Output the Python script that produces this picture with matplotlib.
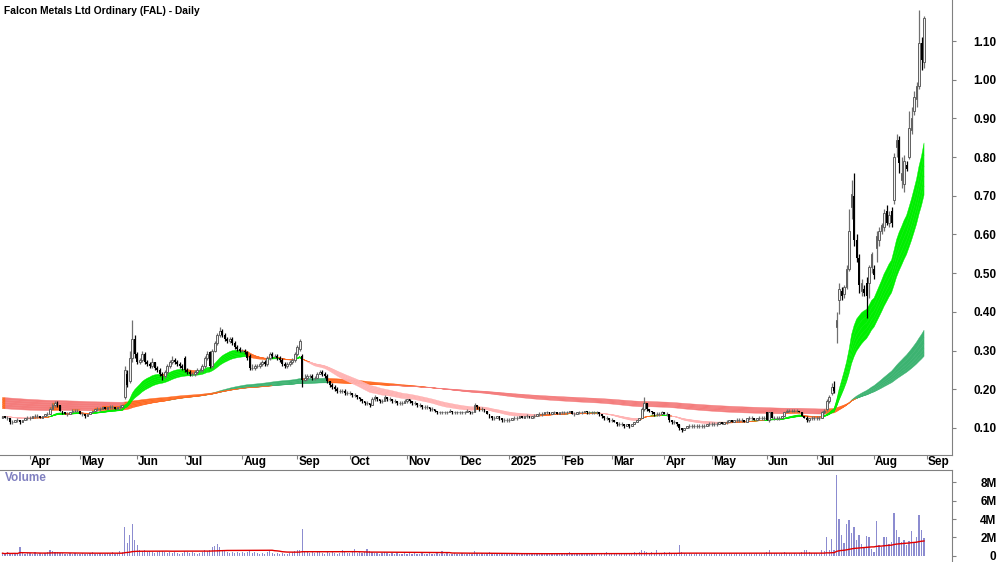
import numpy as np
import pandas as pd
import matplotlib
matplotlib.use("Agg")
import matplotlib.pyplot as plt
from matplotlib.transforms import blended_transform_factory

plt.rcParams['font.family'] = ['Liberation Sans', 'DejaVu Sans']

# ASX trading days shown on the chart
holidays = ["2024-03-29", "2024-04-01", "2024-04-25", "2024-06-10", "2024-12-25", "2024-12-26",
            "2025-01-01", "2025-01-27", "2025-04-18", "2025-04-21", "2025-04-25", "2025-06-09"]

# prices in cents, one row per month
open_c = [12.5, 13, 12.5, 12.5, 11.5, 11.5, 12, 12, 11.5, 12, 12.5,
          12.5, 12.5, 13, 13, 13, 12.5, 13, 13.5, 13.5, 15, 16, 16.5, 16, 14.5, 14, 13.5, 13.5, 14, 14.5, 14.5,
          14.5, 13.5, 13.5, 13, 13.5, 14, 14.5, 15, 15, 15, 15.5, 15, 15.5, 15.5, 15.5, 15, 15.5, 15.5, 18, 24, 22, 28, 33,
          29, 27, 27.5, 29, 27, 26.5, 26, 27, 25.5, 25, 24, 23.5, 24.5, 26, 27, 27.5, 27, 26.5, 26,
          28, 25, 24.5, 24, 24, 24.5, 25, 25, 26, 28, 29.5, 26, 30, 32, 34, 35, 34, 33, 32.5, 33, 32, 31, 30.5,
          30, 30, 29.5, 28.5, 25.5, 25.5, 26, 26, 26.5, 27, 26.5, 28, 29, 28.5, 28.5, 28, 27.5, 26.5, 26, 26.5, 27, 27.5,
          29, 30.5, 28.5, 22.5, 23, 23.5, 23.5, 23, 23, 24, 24.5, 24, 23.5, 22, 21, 20.5, 20, 19.5, 19.5, 19.5, 19,
          19, 19, 18.5, 18.5, 18, 17.5, 17, 16.5, 16.5, 16, 17.5, 18, 17.5, 17, 17, 18, 17.5, 17.5, 17, 17, 16.5, 16.5, 16.5,
          17, 17.5, 17, 16.5, 16.5, 16, 16, 15.5, 15.5, 15.5, 15, 15, 14.5, 14, 14, 14, 14, 14, 14.5, 14, 14,
          14, 14, 14, 14, 14.5, 14, 14, 16, 15.5, 15, 15, 14.5, 13.5, 13, 12.5, 12.5, 13, 12.5, 12, 12,
          12, 12, 12.5, 12.5, 12.5, 13, 12.5, 13, 13, 12.5, 13, 13, 13.5, 13.5, 13.5, 14, 14, 13.5, 14, 14, 13.5,
          14, 14, 14, 14, 14.5, 13.5, 13.5, 14, 14, 14, 14.5, 14, 14, 14, 14, 14, 13.5, 13, 12.5, 12.5,
          12, 12, 11.5, 11, 11, 11, 10.5, 11, 10.5, 11, 11.5, 12, 12.5, 15, 16.5, 15, 14.5, 14, 13.5, 13.5, 13.5,
          14, 13.5, 13.5, 12, 11.5, 11.5, 11, 10, 9.5, 10, 10.5, 10.5, 10.5, 10.5, 10.5, 10.5, 10.5, 10.5, 11,
          11, 11, 11, 11, 11.5, 11, 11.5, 11.5, 12, 11.5, 12, 12, 12, 12, 11.5, 12.5, 12.5, 12.5, 12, 12.5, 12.5, 12.5,
          14, 12, 14, 12.5, 12.5, 12.5, 12.5, 13, 14, 14.5, 14.5, 14.5, 14.5, 14.5, 14, 13, 12.5, 12, 12.5, 12.5,
          12.5, 12.5, 12.5, 14, 15, 17, 19, 20.5, 36, 43, 45.5, 44.5, 46.5, 51, 67, 70, 58.5, 54, 45.5, 46, 47.5, 47.5, 51.5,
          51, 56.5, 58.5, 61, 62, 66, 63, 66, 69, 82.5, 84.5, 74, 73, 78, 80, 87, 92, 95, 98.5, 109.5, 104.5]

high_c = [13, 13, 13, 12.5, 12, 12, 12.5, 12, 12, 12.5, 13,
          13, 13, 13.5, 13.5, 13, 13, 13.5, 14, 15.5, 16.5, 17, 17, 16, 14.5, 14, 14, 14, 15, 15, 15,
          14.5, 14, 13.5, 13.5, 14, 14.5, 15, 15.5, 15.5, 15.5, 15.5, 15.5, 16, 16, 15.5, 15.5, 16, 16, 26, 25, 30, 38, 34,
          29.5, 28, 30, 29.5, 27.5, 27, 28, 27, 26, 25.5, 24.5, 25, 26.5, 27.5, 28.5, 28, 27.5, 27, 26.5,
          28.5, 25.5, 25, 24.5, 25, 25.5, 25.5, 26.5, 28.5, 30, 30, 30.5, 32.5, 34.5, 36, 35.5, 34.5, 33.5, 33.5, 33.5, 32.5, 31.5, 31,
          30.5, 30.5, 30, 29, 26.5, 26.5, 26.5, 27, 27.5, 27.5, 28.5, 29.5, 29.5, 29, 29, 28.5, 28, 27, 27, 27.5, 28, 29.5,
          31.5, 33, 29, 24, 24, 24, 24, 23.5, 24.5, 25, 25, 24.5, 24, 22, 21.5, 21, 20.5, 20, 20, 20, 19.5,
          19.5, 19, 19, 18.5, 18, 17.5, 17, 17, 16.5, 18, 18.5, 18, 17.5, 17.5, 18.5, 18, 18, 17.5, 17.5, 17, 17, 17, 17.5,
          17.5, 17.5, 17, 17, 16.5, 16.5, 16, 16, 16, 15.5, 15.5, 15, 14.5, 14.5, 14.5, 14.5, 14.5, 15, 14.5, 14.5, 14.5,
          14.5, 14.5, 14.5, 15, 14.5, 14.5, 16.5, 16, 15.5, 15.5, 15, 14.5, 13.5, 13, 13, 13, 13, 12.5, 12.5, 12.5,
          12.5, 12.5, 13, 13, 13, 13, 13, 13.5, 13, 13, 13.5, 13.5, 14, 14, 14, 14.5, 14, 14, 14.5, 14, 14,
          14.5, 14.5, 14.5, 14.5, 14.5, 14, 14, 14.5, 14.5, 14.5, 14.5, 14.5, 14.5, 14.5, 14.5, 14, 13.5, 13, 13, 12.5,
          12.5, 12, 11.5, 11.5, 11.5, 11, 11, 11, 11, 11.5, 12, 12.5, 15.5, 18, 16.5, 15, 14.5, 14, 14, 14, 14.5,
          14, 14, 13.5, 12, 12, 11.5, 11, 10, 10, 10.5, 11, 11, 11, 11, 11, 11, 11, 11, 11.5,
          11.5, 11.5, 11.5, 11.5, 11.5, 11.5, 12, 12, 12, 12, 12.5, 12.5, 12.5, 12, 12.5, 13, 13, 12.5, 12.5, 13, 13, 13,
          14, 14, 14, 13, 13, 13, 13, 14, 15, 15, 15, 15, 15, 14.5, 14, 13, 13, 12.5, 13, 13,
          13, 13, 14.5, 15, 17.5, 18.5, 21.5, 22, 40, 47.5, 46.5, 47, 52, 66.5, 74, 76, 60, 55, 48.5, 47, 49, 52, 55.5,
          52, 61, 62, 63, 66.5, 67.5, 66, 67, 81, 86, 85.5, 80, 80.5, 79, 92, 93, 97, 99.5, 118, 111, 116.5]

low_c = [12.5, 12.5, 12, 11, 11, 11.5, 11.5, 11, 11.5, 12, 12,
         12, 12.5, 12.5, 12.5, 12.5, 12.5, 13, 13, 13.5, 15, 15.5, 15.5, 14.5, 13.5, 13.5, 13, 13.5, 14, 14, 14,
         13.5, 13, 12.5, 13, 13.5, 14, 14.5, 14.5, 14.5, 15, 15, 15, 15, 15, 15, 15, 15, 15.5, 17.5, 20.5, 21.5, 27, 28,
         26.5, 26.5, 27, 26.5, 26, 25.5, 25.5, 25, 24.5, 23.5, 22.5, 23, 24, 25.5, 26.5, 26.5, 26, 25.5, 25,
         24.5, 24, 23.5, 23.5, 23.5, 24, 24.5, 24.5, 25.5, 27.5, 25.5, 25.5, 29.5, 31.5, 33.5, 33.5, 32.5, 32, 32, 31.5, 30.5, 30, 29.5,
         29.5, 29, 27.5, 25, 25, 25, 25.5, 25.5, 26, 26, 26, 27.5, 28, 28, 27.5, 27, 26, 25.5, 25.5, 26, 26.5, 27,
         28.5, 30, 20.5, 22, 22.5, 23, 22.5, 22.5, 23, 24, 23.5, 23, 21.5, 20.5, 20, 19.5, 19, 19, 19, 18.5, 18.5,
         18.5, 18, 18, 17.5, 17, 16.5, 16, 16, 15.5, 16, 17, 17, 16.5, 16.5, 17, 17, 17, 16.5, 16.5, 16, 16, 16, 16.5,
         16.5, 16.5, 16, 16, 15.5, 15.5, 15, 15, 15, 14.5, 14.5, 14, 13.5, 13.5, 13.5, 13.5, 13.5, 14, 13.5, 13.5, 13.5,
         13.5, 13.5, 13.5, 14, 13.5, 13.5, 14, 15, 14.5, 14.5, 14, 13.5, 12.5, 12, 12, 12.5, 12, 11.5, 11.5, 11.5,
         11.5, 12, 12, 12, 12.5, 12.5, 12.5, 12.5, 12.5, 12.5, 12.5, 13, 13, 13, 13.5, 13.5, 13.5, 13.5, 13.5, 13.5, 13.5,
         13.5, 13.5, 13.5, 14, 13.5, 13, 13.5, 13.5, 13.5, 14, 13.5, 13.5, 13.5, 13.5, 13.5, 13, 12.5, 12, 12, 11.5,
         11.5, 11.5, 10.5, 10.5, 10.5, 10, 10.5, 10, 10.5, 11, 11.5, 12, 12.5, 14.5, 14.5, 14, 13.5, 13, 13, 13, 13.5,
         13.5, 13, 11.5, 11, 11, 10.5, 9.5, 9, 9.5, 10, 10, 10, 10, 10, 10, 10, 10, 10.5, 10.5,
         10.5, 10.5, 10.5, 11, 11, 11, 11, 11.5, 11.5, 11.5, 11.5, 11.5, 11.5, 11.5, 11.5, 12, 12, 12, 12, 12, 12, 12,
         12, 11.5, 12.5, 12, 12, 12, 12.5, 13, 14, 14, 14, 14, 14, 14, 13, 12.5, 11.5, 11.5, 12, 12,
         12, 12, 12.5, 13.5, 14.5, 16.5, 18.5, 19, 32, 39.5, 43, 43.5, 46, 50.5, 64, 57, 53, 45, 44, 44, 38.5, 43.5, 50,
         48.5, 53, 57, 60, 61, 62.5, 62, 62, 68, 80, 76, 72, 71, 76.5, 79.5, 86, 91, 93, 97.5, 102.5, 103]

close_c = [13, 12.5, 12.5, 11.5, 11.5, 12, 12, 11.5, 12, 12.5, 12.5,
           12.5, 13, 13, 13, 12.5, 13, 13.5, 13.5, 15, 16, 16.5, 16, 14.5, 14, 13.5, 13.5, 14, 14.5, 14.5, 14.5,
           13.5, 13.5, 13, 13.5, 14, 14.5, 15, 15, 15, 15.5, 15, 15.5, 15.5, 15.5, 15, 15.5, 15.5, 16, 25, 21, 28, 33, 29,
           27, 27.5, 29, 27, 26.5, 26, 27, 25.5, 25, 24, 23.5, 24.5, 26, 27, 27.5, 27, 26.5, 26, 25.5,
           25, 24.5, 24, 24, 24.5, 25, 25, 26, 28, 29, 26, 30, 32, 34, 35, 34, 33, 32.5, 33, 32, 31, 30.5, 30,
           30, 29.5, 28, 25.5, 25.5, 26, 26, 26.5, 27, 26.5, 28, 29, 28.5, 28.5, 28, 27.5, 26.5, 26, 26.5, 27, 27.5, 29,
           31, 32.5, 22.5, 23, 23.5, 23.5, 23, 23, 24, 24.5, 24, 23.5, 22, 21, 20.5, 20, 19.5, 19.5, 19.5, 19, 19,
           19, 18.5, 18.5, 18, 17.5, 17, 16.5, 16.5, 16, 17.5, 18, 17.5, 17, 17, 18, 17.5, 17.5, 17, 17, 16.5, 16.5, 16.5, 17,
           17.5, 17, 16.5, 16.5, 16, 16, 15.5, 15.5, 15.5, 15, 15, 14.5, 14, 14, 14, 14, 14, 14.5, 14, 14, 14,
           14, 14, 14, 14.5, 14, 14, 16, 15.5, 15, 15, 14.5, 13.5, 13, 12.5, 12.5, 13, 12.5, 12, 12, 12,
           12, 12.5, 12.5, 12.5, 13, 12.5, 13, 13, 12.5, 13, 13, 13.5, 13.5, 13.5, 14, 14, 13.5, 14, 14, 13.5, 14,
           14, 14, 14, 14.5, 13.5, 13.5, 14, 14, 14, 14.5, 14, 14, 14, 14, 14, 13.5, 13, 12.5, 12.5, 12,
           12, 11.5, 11, 11, 11, 10.5, 11, 10.5, 11, 11.5, 12, 12.5, 15, 16.5, 15, 14.5, 14, 13.5, 13.5, 13.5, 14,
           13.5, 13.5, 12, 11.5, 11.5, 11, 10, 9.5, 10, 10.5, 10.5, 10.5, 10.5, 10.5, 10.5, 10.5, 10.5, 11, 11,
           11, 11, 11, 11.5, 11, 11.5, 11.5, 12, 11.5, 12, 12, 12, 12, 11.5, 12.5, 12.5, 12.5, 12, 12.5, 12.5, 12.5, 12.5,
           12, 14, 12.5, 12.5, 12.5, 12.5, 13, 14, 14.5, 14.5, 14.5, 14.5, 14.5, 14, 13, 12.5, 12, 12.5, 12.5, 12.5,
           12.5, 12.5, 14, 14.5, 17, 18, 20.5, 19.5, 38, 46, 44, 46.5, 51, 61, 70.5, 58.5, 54, 47, 47.5, 45, 44, 51.5, 55,
           49.5, 59.5, 61, 62.5, 65.5, 63, 65, 63, 80, 84.5, 78.5, 76, 79, 77, 87.5, 90, 95.5, 98.5, 109.5, 105, 116]

# volume in millions of shares
volume_m = [0.3, 0.2, 0.4, 0.2, 0.3, 0.3, 0.2, 1.0, 0.3, 0.2, 0.3,
            0.3, 0.2, 0.4, 0.2, 0.3, 0.2, 0.3, 0.4, 0.6, 0.5, 0.4, 0.4, 0.3, 0.3, 0.2, 0.2, 0.3, 0.2, 0.3, 0.2,
            0.2, 0.3, 0.2, 0.2, 0.3, 0.4, 0.2, 0.2, 0.3, 0.2, 0.2, 0.3, 0.2, 0.4, 0.2, 0.3, 0.5, 0.4, 3.1, 1.4, 2.3, 3.5, 1.7,
            1.2, 0.6, 0.5, 0.6, 0.4, 0.5, 0.4, 0.3, 0.4, 0.5, 0.5, 0.4, 0.3, 0.4, 0.3, 0.4, 0.3, 0.2, 0.3,
            0.5, 0.4, 0.3, 0.4, 0.3, 0.2, 0.3, 0.4, 0.6, 0.5, 0.6, 1.0, 1.1, 1.3, 1.0, 0.6, 0.5, 0.4, 0.3, 0.4, 0.3, 0.4, 0.3,
            0.4, 0.3, 0.4, 0.6, 0.3, 0.4, 0.3, 0.2, 0.3, 0.2, 0.4, 0.5, 0.3, 0.2, 0.3, 0.2, 0.3, 0.2, 0.2, 0.3, 0.4, 0.5,
            0.6, 0.7, 2.9, 0.5, 0.4, 0.3, 0.4, 0.3, 0.5, 0.4, 0.3, 0.2, 0.4, 0.3, 0.4, 0.3, 0.2, 0.3, 0.7, 0.4, 0.3,
            0.3, 0.4, 0.8, 0.3, 0.4, 0.3, 0.4, 0.8, 0.5, 0.4, 0.3, 0.3, 0.2, 0.3, 0.4, 0.3, 0.2, 0.3, 0.2, 0.3, 0.2, 0.2, 0.3,
            0.2, 0.3, 0.2, 0.3, 0.2, 0.2, 0.3, 0.2, 0.2, 0.3, 0.2, 0.2, 0.3, 0.2, 0.5, 0.2, 0.3, 0.2, 0.2, 0.3, 0.2,
            0.2, 0.3, 0.2, 0.2, 0.3, 0.2, 0.5, 0.3, 0.2, 0.3, 0.2, 0.3, 0.4, 0.3, 0.2, 0.2, 0.3, 0.2, 0.2, 0.2,
            0.3, 0.2, 0.2, 0.3, 0.2, 0.3, 0.2, 0.2, 0.3, 0.2, 0.2, 0.3, 0.2, 0.2, 0.3, 0.2, 0.2, 0.3, 0.2, 0.3, 0.2,
            0.2, 0.3, 0.2, 0.4, 0.3, 0.2, 0.2, 0.3, 0.2, 0.2, 0.3, 0.2, 0.2, 0.2, 0.3, 0.2, 0.3, 0.2, 0.4, 0.3,
            0.2, 0.3, 0.2, 0.2, 0.3, 0.2, 0.2, 0.3, 0.2, 0.4, 0.3, 0.4, 0.7, 0.5, 0.4, 0.3, 0.4, 0.3, 0.6, 0.3, 0.3,
            0.4, 0.3, 0.4, 0.3, 0.3, 0.3, 1.2, 0.4, 0.3, 0.2, 0.3, 0.2, 0.2, 0.3, 0.2, 0.2, 0.3, 0.2, 0.2,
            0.2, 0.3, 0.2, 0.2, 0.3, 0.2, 0.2, 0.3, 0.2, 0.2, 0.3, 0.2, 0.2, 0.3, 0.2, 0.3, 0.2, 0.2, 0.3, 0.2, 0.2, 0.3,
            0.4, 0.6, 0.3, 0.3, 0.3, 0.2, 0.3, 0.4, 0.3, 0.3, 0.2, 0.3, 0.2, 0.3, 0.4, 0.7, 0.7, 0.4, 0.3, 0.3,
            0.3, 0.2, 0.7, 0.5, 2.1, 0.6, 1.8, 0.6, 8.8, 4.0, 2.3, 1.4, 3.5, 3.9, 2.5, 3.1, 1.7, 2.3, 1.3, 1.0, 2.2, 2.1, 0.8,
            0.4, 3.8, 1.2, 1.0, 2.1, 2.0, 1.3, 1.5, 4.6, 2.8, 2.0, 1.5, 1.7, 1.2, 1.6, 2.7, 1.5, 2.1, 4.4, 2.8, 1.9]

# moving-average ribbons (EMA spans and starting values)
short_spans = [20, 23, 26, 29, 32, 35]
short_seeds = [0.13, 0.13, 0.13, 0.13, 0.13, 0.13]
long_spans = [150, 170, 190, 210, 230, 250]
long_seeds = [0.150, 0.155, 0.161, 0.167, 0.173, 0.179]

month_labels = ['Apr', 'May', 'Jun', 'Jul', 'Aug', 'Sep', 'Oct', 'Nov', 'Dec', '2025',
                'Feb', 'Mar', 'Apr', 'May', 'Jun', 'Jul', 'Aug', 'Sep']

dates = pd.bdate_range("2024-03-14", "2025-08-29")
dates = dates[~dates.isin(pd.to_datetime(holidays))]

o = np.array(open_c) / 100
h = np.array(high_c) / 100
l = np.array(low_c) / 100
c = np.array(close_c) / 100
vol = np.array(volume_m)
x = np.arange(len(dates))
assert len(o) == len(h) == len(l) == len(c) == len(vol) == len(dates)


def ema(values, span, seed):
    a = 2.0 / (span + 1)
    out = np.empty(len(values))
    prev = seed
    for k, v in enumerate(values):
        prev = prev + a * (v - prev)
        out[k] = prev
    return out


def draw_ribbon(ax, spans, seeds, cols, z):
    # each strip between two neighbouring averages gets its own colour:
    # bull = fast above slow and rising, bear = fast below slow and falling, else orange
    lines = [ema(c, s, sd) for s, sd in zip(spans, seeds)]
    for fast, slow in zip(lines[:-1], lines[1:]):
        rising = np.r_[True, np.diff(fast) > 0] & np.r_[True, np.diff(slow) > 0]
        falling = np.r_[False, np.diff(fast) < 0] & np.r_[False, np.diff(slow) < 0]
        bull = (fast > slow) & rising
        bear = (fast < slow) & falling
        mixed = ~(bull | bear)
        lo = np.minimum(fast, slow)
        hi = np.maximum(fast, slow)
        for mask, col in ((bull, cols[0]), (bear, cols[1]), (mixed, cols[2])):
            m = mask.copy()
            m[1:] |= mask[:-1]
            ax.fill_between(x, lo, hi, where=m, color=col, lw=0.3, ec=col, zorder=z)


fig = plt.figure(figsize=(10, 5.62), dpi=100)
ax = fig.add_axes([0, 107 / 562, 0.952, 455 / 562])
axv = fig.add_axes([0, 0, 0.952, 92 / 562], sharex=ax)

draw_ribbon(ax, long_spans, long_seeds, ['#3cb371', '#f47c7c', '#ff6a22'], 1)
draw_ribbon(ax, short_spans, short_seeds, ['#00ee00', '#ffb3b3', '#ff6a22'], 2)

up = c >= o
ax.vlines(x[up], l[up], h[up], color='#707070', lw=0.9, zorder=3)
ax.vlines(x[~up], l[~up], h[~up], color='black', lw=0.9, zorder=3)
ax.bar(x[up], (c - o)[up], bottom=o[up], width=0.7, facecolor='#f0f0f0', edgecolor='#606060', lw=0.7, zorder=4)
ax.bar(x[~up], (o - c)[~up], bottom=c[~up], width=0.7, color='black', lw=0, zorder=4)

ax.set_xlim(-1, 380.2)
ax.set_ylim(0.030, 1.206)

# month ticks
month_start = np.r_[np.flatnonzero(dates.month[1:] != dates.month[:-1]) + 1, len(dates)]
ax.set_xticks(month_start)
ax.tick_params(axis='x', length=3, color='#808080', labelbottom=False)
tr = blended_transform_factory(ax.transData, ax.transAxes)
for pos, lab in zip(month_start, month_labels):
    ax.text(pos + 0.4, -0.016, lab, transform=tr, ha='left', va='center',
            fontsize=8.5, fontweight='bold', clip_on=False)

# volume panel
axv.bar(x, vol, width=0.5, color='#8c8cd0', lw=0, zorder=2)
vol_ma = pd.Series(vol).rolling(60, min_periods=1).mean()
axv.plot(x, vol_ma, color='#e00000', lw=1.0, zorder=3)
axv.set_ylim(-0.65, 9.3)
axv.tick_params(axis='x', bottom=False, labelbottom=False)
axv.text(0.005, 0.91, 'Volume', transform=axv.transAxes, color='#8080c0',
         fontsize=8.5, fontweight='bold', va='center')

price_ticks = [0.1, 0.2, 0.3, 0.4, 0.5, 0.6, 0.7, 0.8, 0.9, 1.0, 1.1]
ax.set_yticks(price_ticks)
ax.set_yticklabels(['%.2f' % v for v in price_ticks])
axv.set_yticks([0, 2, 4, 6, 8])
axv.set_yticklabels(['0', '2M', '4M', '6M', '8M'])

for a in (ax, axv):
    a.yaxis.tick_right()
    a.tick_params(axis='y', length=3, color='#808080', pad=29, labelsize=8.5)
    for t in a.get_yticklabels():
        t.set_ha('right')
        t.set_fontweight('bold')
    a.spines['left'].set_visible(False)
    a.spines['right'].set_color('#808080')
ax.spines['top'].set_visible(False)
ax.spines['bottom'].set_color('#808080')
axv.spines['bottom'].set_visible(False)
axv.spines['top'].set_color('#808080')

fig.text(0.004, 1 - 11 / 562, 'Falcon Metals Ltd Ordinary (FAL) - Daily',
         fontsize=7.4, fontweight='bold', va='center')

fig.savefig('out.png', dpi=100)
